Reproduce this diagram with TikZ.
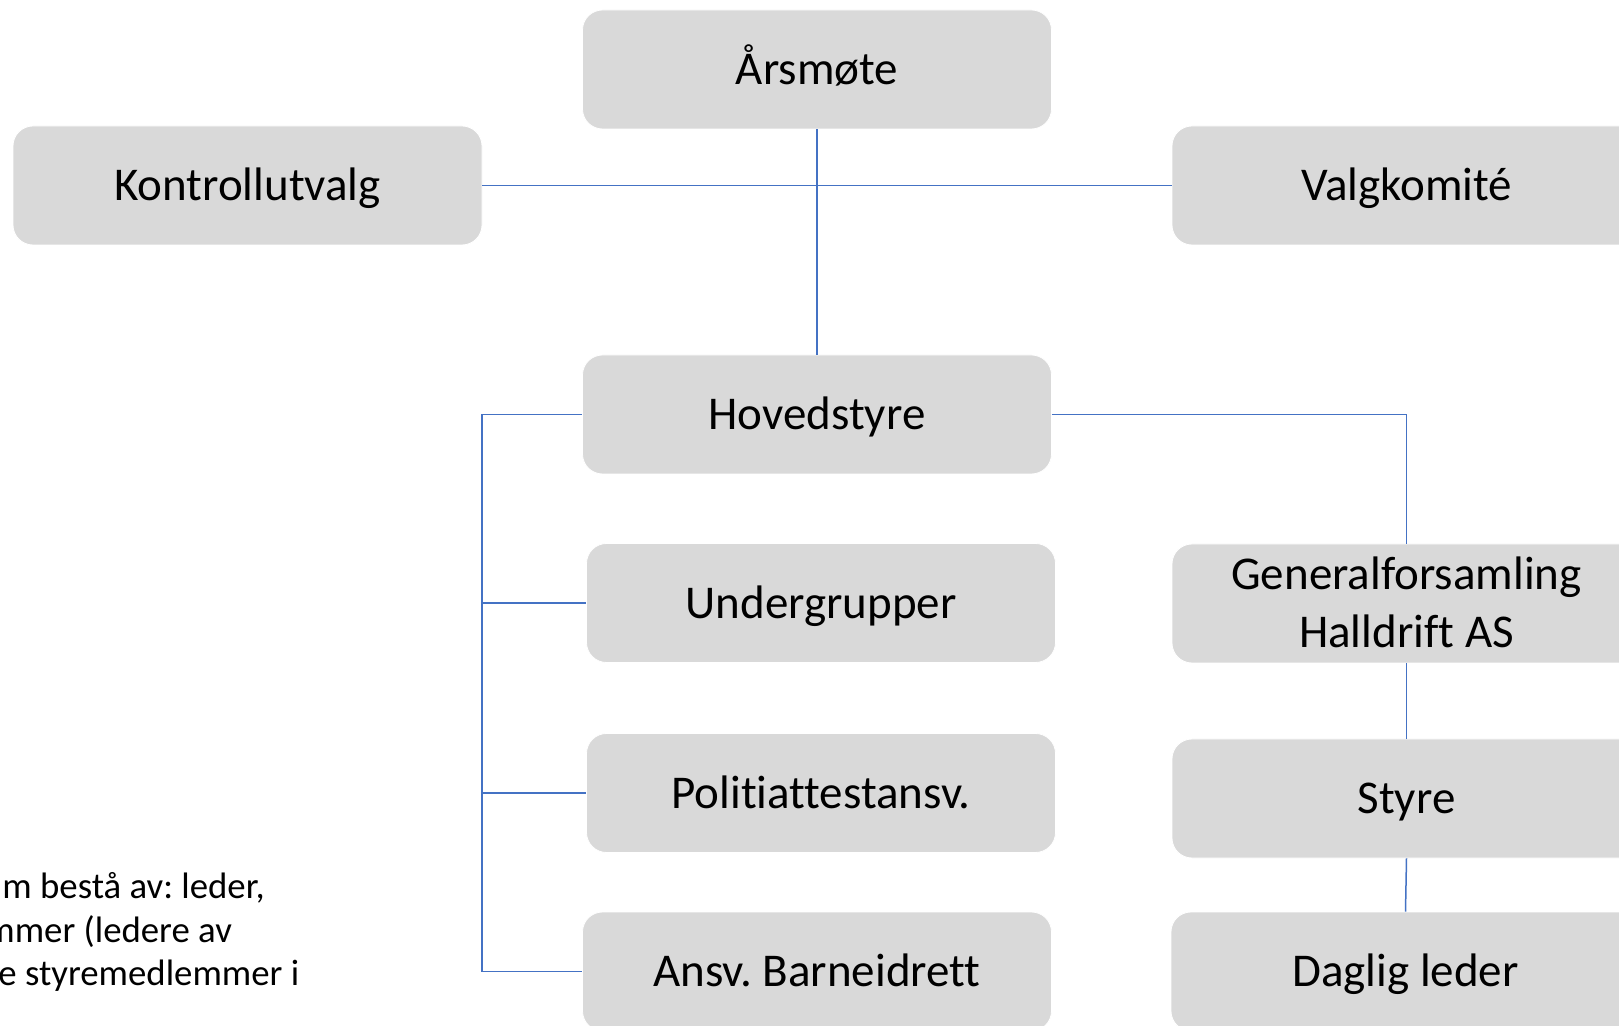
\documentclass[tikz,border=0pt]{standalone}
\usepackage{fontspec}
\setmainfont[Ligatures={NoCommon}]{Carlito}
\frenchspacing
\definecolor{boxgray}{HTML}{D9D9D9}
\definecolor{linkblue}{HTML}{4472C4}
\tikzset{
  orgbox/.style={fill=boxgray, draw=white, line width=0.4pt, rounded corners=10pt,
    minimum width=234.5pt, minimum height=59.5pt, inner sep=0pt, align=center,
    font=\fontsize{23.5pt}{28.9pt}\selectfont, text height=15.5pt, text depth=0.47pt},
  twoline/.style={text height=44.4pt},
  link/.style={draw=linkblue, line width=0.75pt},
  note/.style={anchor=base west, inner sep=0pt, font=\fontsize{18.4pt}{22pt}\selectfont}
}
\begin{document}
\begin{tikzpicture}[x=0.5pt,y=-0.5pt]
\useasboundingbox (0,0) rectangle (1619,1026);
\clip (0,0) rectangle (1619,1026);
\fill[white] (0,0) rectangle (1619,1026);

\node[orgbox] (ars) at (817,69.5) {Årsmøte};
\node[orgbox] (kontroll) at (247.5,185.5) {Kontrollutvalg};
\node[orgbox] (valg) at (1406.5,185.5) {Valgkomité};
\node[orgbox] (hoved) at (817,414.5) {Hovedstyre};
\node[orgbox] (under) at (821,603) {Undergrupper};
\node[orgbox] (politi) at (821,793) {Politiattestansv.};
\node[orgbox] (ansv) at (817,971.5) {Ansv. Barneidrett};
\node[orgbox, twoline] (genfor) at (1406.5,603.5) {Generalforsamling\\Halldrift AS};
\node[orgbox] (styre) at (1406.5,798.5) {Styre};
\node[orgbox] (daglig) at (1405.5,971.5) {Daglig leder};

\coordinate (trunk) at (482,414.5);

\draw[link] (ars.south) -- (hoved.north);
\draw[link] (kontroll.east) -- (valg.west);
\draw[link] (hoved.west) -- (trunk) |- (ansv.west);
\draw[link] (trunk |- under.west) -- (under.west);
\draw[link] (trunk |- politi.west) -- (politi.west);
\draw[link] (hoved.east) -| (genfor.north);
\draw[link] (genfor.south) -- (styre.north);
\draw[link] (styre.south) -- (daglig.north);

\node[note] (n1) at (2,898) {m bestå av: leder,};
\node[note] (n2) at (-15,942) {mmer (ledere av};
\node[note] (n3) at (-2,985) {e styremedlemmer i};
\end{tikzpicture}
\end{document}
